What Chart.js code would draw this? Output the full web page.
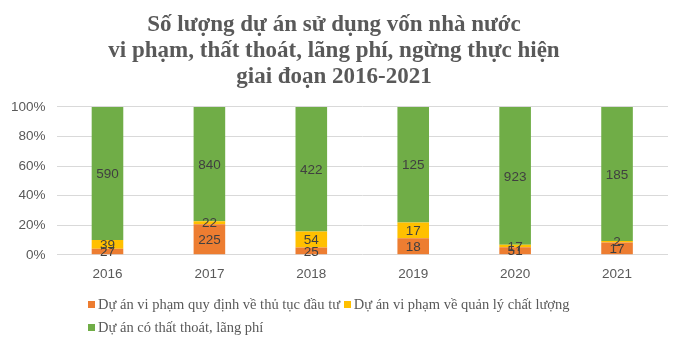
<!DOCTYPE html>
<html>
<head>
<meta charset="utf-8">
<script src="https://cdn.jsdelivr.net/npm/chart.js@4"></script>
<style>
  body { margin: 0; background: #fff; }
  #wrap { position: relative; width: 680px; height: 351px; }
  #legend {
    position: absolute; left: 88px; top: 293px;
    font-family: "Liberation Serif", "Times New Roman", serif;
    font-size: 14.5px; color: #595959; line-height: 23px;
  }
  #legend span.box { display: inline-block; width: 7px; height: 7px; margin-right: 3px; vertical-align: 1px; }
</style>
</head>
<body>
<div id="wrap">
  <canvas id="chart" width="680" height="351"></canvas>
  <div id="legend"></div>
</div>
<script>
const years = ["2016", "2017", "2018", "2019", "2020", "2021"];
const procedure = [27, 225, 25, 18, 51, 17];
const quality = [39, 22, 54, 17, 17, 2];
const losses = [590, 840, 422, 125, 923, 185];
const seriesNames = [
  "Dự án vi phạm quy định về thủ tục đầu tư",
  "Dự án vi phạm về quản lý chất lượng",
  "Dự án có thất thoát, lãng phí"
];
const colors = ["#ED7D31", "#FFC000", "#70AD47"];
const titleLines = [
  "Số lượng dự án sử dụng vốn nhà nước",
  "vi phạm, thất thoát, lãng phí, ngừng thực hiện",
  "giai đoạn 2016-2021"
];

const raw = [procedure, quality, losses];
const totals = years.map((_, i) => procedure[i] + quality[i] + losses[i]);

// value labels centred in each segment
const segLabels = {
  id: "segLabels",
  afterDatasetsDraw(chart) {
    const ctx = chart.ctx;
    ctx.save();
    ctx.font = "13.5px 'Liberation Sans', Arial, sans-serif";
    ctx.fillStyle = "#404040";
    ctx.textAlign = "center";
    ctx.textBaseline = "middle";
    chart.data.datasets.forEach((ds, d) => {
      chart.getDatasetMeta(d).data.forEach((el, i) => {
        const y = (el.y + el.base) / 2;
        ctx.fillText(raw[d][i], el.x, y + 1);
      });
    });
    ctx.restore();
  }
};

new Chart(document.getElementById("chart"), {
  type: "bar",
  data: {
    labels: years,
    datasets: raw.map((vals, d) => ({
      label: seriesNames[d],
      data: vals.map((v, i) => v / totals[i] * 100),
      backgroundColor: colors[d],
      categoryPercentage: 1,
      barPercentage: 0.31
    }))
  },
  options: {
    responsive: false,
    animation: false,
    layout: { padding: { left: 0, right: 12, top: 0, bottom: 66 } },
    plugins: {
      legend: { display: false },
      tooltip: { enabled: false },
      title: {
        display: true,
        text: titleLines,
        color: "#595959",
        font: { family: "'Liberation Serif', 'Times New Roman', serif", size: 23, weight: "bold", lineHeight: 1.13 },
        padding: { top: 12, bottom: 17 }
      }
    },
    scales: {
      x: {
        stacked: true,
        grid: { display: false },
        border: { display: false },
        ticks: { color: "#595959", font: { family: "'Liberation Sans', Arial, sans-serif", size: 13.5 }, padding: 3 }
      },
      y: {
        stacked: true,
        min: 0, max: 100,
        ticks: { stepSize: 20, callback: v => v + "%", color: "#595959", font: { family: "'Liberation Sans', Arial, sans-serif", size: 13.5 }, padding: 11 },
        grid: { color: "#D9D9D9", drawTicks: false },
        border: { display: false }
      }
    }
  },
  plugins: [segLabels]
});

// legend as plain text rows
const legend = document.getElementById("legend");
legend.innerHTML =
  `<div><span class="box" style="background:${colors[0]}"></span>${seriesNames[0]} <span class="box" style="background:${colors[1]}"></span>${seriesNames[1]}</div>` +
  `<div><span class="box" style="background:${colors[2]}"></span>${seriesNames[2]}</div>`;
</script>
</body>
</html>
